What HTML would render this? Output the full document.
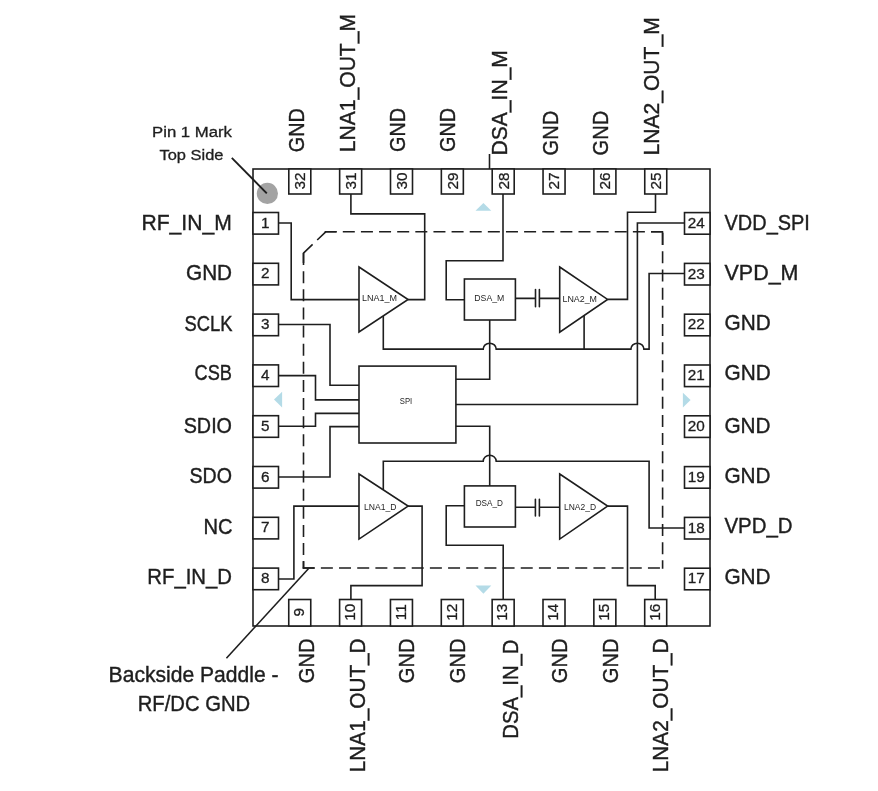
<!DOCTYPE html>
<html><head><meta charset="utf-8"><style>
html,body{margin:0;padding:0;background:#fff;width:878px;height:791px;overflow:hidden}
svg{display:block;will-change:transform}
text{font-family:"Liberation Sans",sans-serif;fill:#1e1e1e}
.L{stroke:#1e1e1e;stroke-width:0.4}
.N{stroke:#1e1e1e;stroke-width:0.3}
</style></head><body>
<svg width="878" height="791" viewBox="0 0 878 791">
<rect x="253" y="169" width="457" height="457" fill="none" stroke="#1e1e1e" stroke-width="1.6"/>
<rect x="288.80" y="169" width="22" height="25" fill="#fff" stroke="#1e1e1e" stroke-width="1.6"/>
<rect x="339.65" y="169" width="22" height="25" fill="#fff" stroke="#1e1e1e" stroke-width="1.6"/>
<rect x="390.50" y="169" width="22" height="25" fill="#fff" stroke="#1e1e1e" stroke-width="1.6"/>
<rect x="441.35" y="169" width="22" height="25" fill="#fff" stroke="#1e1e1e" stroke-width="1.6"/>
<rect x="492.20" y="169" width="22" height="25" fill="#fff" stroke="#1e1e1e" stroke-width="1.6"/>
<rect x="543.05" y="169" width="22" height="25" fill="#fff" stroke="#1e1e1e" stroke-width="1.6"/>
<rect x="593.90" y="169" width="22" height="25" fill="#fff" stroke="#1e1e1e" stroke-width="1.6"/>
<rect x="644.75" y="169" width="22" height="25" fill="#fff" stroke="#1e1e1e" stroke-width="1.6"/>
<rect x="288.75" y="599.5" width="22" height="26.5" fill="#fff" stroke="#1e1e1e" stroke-width="1.6"/>
<rect x="339.60" y="599.5" width="22" height="26.5" fill="#fff" stroke="#1e1e1e" stroke-width="1.6"/>
<rect x="390.45" y="599.5" width="22" height="26.5" fill="#fff" stroke="#1e1e1e" stroke-width="1.6"/>
<rect x="441.30" y="599.5" width="22" height="26.5" fill="#fff" stroke="#1e1e1e" stroke-width="1.6"/>
<rect x="492.15" y="599.5" width="22" height="26.5" fill="#fff" stroke="#1e1e1e" stroke-width="1.6"/>
<rect x="543.00" y="599.5" width="22" height="26.5" fill="#fff" stroke="#1e1e1e" stroke-width="1.6"/>
<rect x="593.85" y="599.5" width="22" height="26.5" fill="#fff" stroke="#1e1e1e" stroke-width="1.6"/>
<rect x="644.70" y="599.5" width="22" height="26.5" fill="#fff" stroke="#1e1e1e" stroke-width="1.6"/>
<rect x="253" y="212.50" width="25.5" height="21.6" fill="#fff" stroke="#1e1e1e" stroke-width="1.6"/>
<rect x="253" y="263.30" width="25.5" height="21.6" fill="#fff" stroke="#1e1e1e" stroke-width="1.6"/>
<rect x="253" y="314.10" width="25.5" height="21.6" fill="#fff" stroke="#1e1e1e" stroke-width="1.6"/>
<rect x="253" y="364.90" width="25.5" height="21.6" fill="#fff" stroke="#1e1e1e" stroke-width="1.6"/>
<rect x="253" y="415.70" width="25.5" height="21.6" fill="#fff" stroke="#1e1e1e" stroke-width="1.6"/>
<rect x="253" y="466.50" width="25.5" height="21.6" fill="#fff" stroke="#1e1e1e" stroke-width="1.6"/>
<rect x="253" y="517.30" width="25.5" height="21.6" fill="#fff" stroke="#1e1e1e" stroke-width="1.6"/>
<rect x="253" y="568.10" width="25.5" height="21.6" fill="#fff" stroke="#1e1e1e" stroke-width="1.6"/>
<rect x="684.5" y="212.60" width="25.5" height="21.6" fill="#fff" stroke="#1e1e1e" stroke-width="1.6"/>
<rect x="684.5" y="263.40" width="25.5" height="21.6" fill="#fff" stroke="#1e1e1e" stroke-width="1.6"/>
<rect x="684.5" y="314.20" width="25.5" height="21.6" fill="#fff" stroke="#1e1e1e" stroke-width="1.6"/>
<rect x="684.5" y="365.00" width="25.5" height="21.6" fill="#fff" stroke="#1e1e1e" stroke-width="1.6"/>
<rect x="684.5" y="415.80" width="25.5" height="21.6" fill="#fff" stroke="#1e1e1e" stroke-width="1.6"/>
<rect x="684.5" y="466.60" width="25.5" height="21.6" fill="#fff" stroke="#1e1e1e" stroke-width="1.6"/>
<rect x="684.5" y="517.40" width="25.5" height="21.6" fill="#fff" stroke="#1e1e1e" stroke-width="1.6"/>
<rect x="684.5" y="568.20" width="25.5" height="21.6" fill="#fff" stroke="#1e1e1e" stroke-width="1.6"/>
<text transform="translate(305.20,181) rotate(-90)" text-anchor="middle" font-size="15.3" class="N">32</text>
<text transform="translate(356.05,181) rotate(-90)" text-anchor="middle" font-size="15.3" class="N">31</text>
<text transform="translate(406.90,181) rotate(-90)" text-anchor="middle" font-size="15.3" class="N">30</text>
<text transform="translate(457.75,181) rotate(-90)" text-anchor="middle" font-size="15.3" class="N">29</text>
<text transform="translate(508.60,181) rotate(-90)" text-anchor="middle" font-size="15.3" class="N">28</text>
<text transform="translate(559.45,181) rotate(-90)" text-anchor="middle" font-size="15.3" class="N">27</text>
<text transform="translate(610.30,181) rotate(-90)" text-anchor="middle" font-size="15.3" class="N">26</text>
<text transform="translate(661.15,181) rotate(-90)" text-anchor="middle" font-size="15.3" class="N">25</text>
<text transform="translate(303.95,612.3) rotate(-90)" text-anchor="middle" font-size="15.3" class="N">9</text>
<text transform="translate(354.80,612.3) rotate(-90)" text-anchor="middle" font-size="15.3" class="N">10</text>
<text transform="translate(405.65,612.3) rotate(-90)" text-anchor="middle" font-size="15.3" class="N">11</text>
<text transform="translate(456.50,612.3) rotate(-90)" text-anchor="middle" font-size="15.3" class="N">12</text>
<text transform="translate(507.35,612.3) rotate(-90)" text-anchor="middle" font-size="15.3" class="N">13</text>
<text transform="translate(558.20,612.3) rotate(-90)" text-anchor="middle" font-size="15.3" class="N">14</text>
<text transform="translate(609.05,612.3) rotate(-90)" text-anchor="middle" font-size="15.3" class="N">15</text>
<text transform="translate(659.90,612.3) rotate(-90)" text-anchor="middle" font-size="15.3" class="N">16</text>
<text x="265.2" y="227.60" text-anchor="middle" font-size="15.3" class="N">1</text>
<text x="265.2" y="278.40" text-anchor="middle" font-size="15.3" class="N">2</text>
<text x="265.2" y="329.20" text-anchor="middle" font-size="15.3" class="N">3</text>
<text x="265.2" y="380.00" text-anchor="middle" font-size="15.3" class="N">4</text>
<text x="265.2" y="430.80" text-anchor="middle" font-size="15.3" class="N">5</text>
<text x="265.2" y="481.60" text-anchor="middle" font-size="15.3" class="N">6</text>
<text x="265.2" y="532.40" text-anchor="middle" font-size="15.3" class="N">7</text>
<text x="265.2" y="583.20" text-anchor="middle" font-size="15.3" class="N">8</text>
<text x="696.3" y="227.70" text-anchor="middle" font-size="15.3" class="N">24</text>
<text x="696.3" y="278.50" text-anchor="middle" font-size="15.3" class="N">23</text>
<text x="696.3" y="329.30" text-anchor="middle" font-size="15.3" class="N">22</text>
<text x="696.3" y="380.10" text-anchor="middle" font-size="15.3" class="N">21</text>
<text x="696.3" y="430.90" text-anchor="middle" font-size="15.3" class="N">20</text>
<text x="696.3" y="481.70" text-anchor="middle" font-size="15.3" class="N">19</text>
<text x="696.3" y="532.50" text-anchor="middle" font-size="15.3" class="N">18</text>
<text x="696.3" y="583.30" text-anchor="middle" font-size="15.3" class="N">17</text>
<text x="141.4" y="230.1" textLength="90.4" lengthAdjust="spacingAndGlyphs" font-size="21.4" class="L">RF_IN_M</text>
<text x="186.0" y="279.6" textLength="46.1" lengthAdjust="spacingAndGlyphs" font-size="21.4" class="L">GND</text>
<text x="184.5" y="330.8" textLength="48.0" lengthAdjust="spacingAndGlyphs" font-size="21.4" class="L">SCLK</text>
<text x="194.6" y="380.4" textLength="37.4" lengthAdjust="spacingAndGlyphs" font-size="21.4" class="L">CSB</text>
<text x="183.7" y="433.2" textLength="48.3" lengthAdjust="spacingAndGlyphs" font-size="21.4" class="L">SDIO</text>
<text x="189.5" y="482.5" textLength="42.5" lengthAdjust="spacingAndGlyphs" font-size="21.4" class="L">SDO</text>
<text x="203.4" y="533.5" textLength="29.1" lengthAdjust="spacingAndGlyphs" font-size="21.4" class="L">NC</text>
<text x="147.3" y="583.5" textLength="84.7" lengthAdjust="spacingAndGlyphs" font-size="21.4" class="L">RF_IN_D</text>
<text x="724.5" y="229.8" textLength="85.4" lengthAdjust="spacingAndGlyphs" font-size="21.4" class="L">VDD_SPI</text>
<text x="724.5" y="280.4" textLength="74.0" lengthAdjust="spacingAndGlyphs" font-size="21.4" class="L">VPD_M</text>
<text x="724.5" y="330.1" textLength="46.2" lengthAdjust="spacingAndGlyphs" font-size="21.4" class="L">GND</text>
<text x="724.5" y="380" textLength="46.2" lengthAdjust="spacingAndGlyphs" font-size="21.4" class="L">GND</text>
<text x="724.4" y="433.4" textLength="46.2" lengthAdjust="spacingAndGlyphs" font-size="21.4" class="L">GND</text>
<text x="724.4" y="482.9" textLength="46.2" lengthAdjust="spacingAndGlyphs" font-size="21.4" class="L">GND</text>
<text x="724.4" y="533.4" textLength="68.2" lengthAdjust="spacingAndGlyphs" font-size="21.4" class="L">VPD_D</text>
<text x="724.4" y="584" textLength="46.2" lengthAdjust="spacingAndGlyphs" font-size="21.4" class="L">GND</text>
<text transform="translate(304.1,152.2) rotate(-90)" textLength="44.0" lengthAdjust="spacingAndGlyphs" font-size="21.4" class="L">GND</text>
<text transform="translate(355.3,152.2) rotate(-90)" textLength="138.2" lengthAdjust="spacingAndGlyphs" font-size="21.4" class="L">LNA1_OUT_M</text>
<text transform="translate(404.7,152.0) rotate(-90)" textLength="44.0" lengthAdjust="spacingAndGlyphs" font-size="21.4" class="L">GND</text>
<text transform="translate(454.8,152.0) rotate(-90)" textLength="44.0" lengthAdjust="spacingAndGlyphs" font-size="21.4" class="L">GND</text>
<text transform="translate(507.1,155.4) rotate(-90)" textLength="105.2" lengthAdjust="spacingAndGlyphs" font-size="21.4" class="L">DSA_IN_M</text>
<text transform="translate(557.6,155.4) rotate(-90)" textLength="44.6" lengthAdjust="spacingAndGlyphs" font-size="21.4" class="L">GND</text>
<text transform="translate(607.7,155.4) rotate(-90)" textLength="44.6" lengthAdjust="spacingAndGlyphs" font-size="21.4" class="L">GND</text>
<text transform="translate(658.5,155.4) rotate(-90)" textLength="138.1" lengthAdjust="spacingAndGlyphs" font-size="21.4" class="L">LNA2_OUT_M</text>
<text transform="translate(314.1,683.2) rotate(-90)" textLength="44.8" lengthAdjust="spacingAndGlyphs" font-size="21.4" class="L">GND</text>
<text transform="translate(364.7,772.2) rotate(-90)" textLength="133.8" lengthAdjust="spacingAndGlyphs" font-size="21.4" class="L">LNA1_OUT_D</text>
<text transform="translate(414.4,683.2) rotate(-90)" textLength="44.8" lengthAdjust="spacingAndGlyphs" font-size="21.4" class="L">GND</text>
<text transform="translate(465.4,683.2) rotate(-90)" textLength="44.8" lengthAdjust="spacingAndGlyphs" font-size="21.4" class="L">GND</text>
<text transform="translate(517.6,738.7) rotate(-90)" textLength="99.2" lengthAdjust="spacingAndGlyphs" font-size="21.4" class="L">DSA_IN_D</text>
<text transform="translate(567.0,683.2) rotate(-90)" textLength="44.8" lengthAdjust="spacingAndGlyphs" font-size="21.4" class="L">GND</text>
<text transform="translate(617.9,683.2) rotate(-90)" textLength="44.8" lengthAdjust="spacingAndGlyphs" font-size="21.4" class="L">GND</text>
<text transform="translate(668,772.2) rotate(-90)" textLength="133.8" lengthAdjust="spacingAndGlyphs" font-size="21.4" class="L">LNA2_OUT_D</text>
<text x="152" y="136.6" textLength="80" lengthAdjust="spacingAndGlyphs" font-size="14.7" class="N">Pin 1 Mark</text>
<text x="159.5" y="159.5" textLength="64" lengthAdjust="spacingAndGlyphs" font-size="14.7" class="N">Top Side</text>
<text x="108.6" y="682.1" textLength="170" lengthAdjust="spacingAndGlyphs" font-size="21.4" class="L">Backside Paddle -</text>
<text x="137.7" y="710.6" textLength="112.5" lengthAdjust="spacingAndGlyphs" font-size="21.4" class="L">RF/DC GND</text>
<circle cx="267.4" cy="193.4" r="10.6" fill="#a3a3a3"/>
<path d="M231.8,157.8 L266.8,193.3" stroke="#1e1e1e" stroke-width="1.9" fill="none"/>
<path d="M226.4,658.2 L308.4,568.8" stroke="#1e1e1e" stroke-width="1.6" fill="none"/>
<path d="M303.5,253 V568.8" fill="none" stroke="#1e1e1e" stroke-width="1.6" stroke-dasharray="12 6.13"/>
<path d="M302.7,568 H663.4" fill="none" stroke="#1e1e1e" stroke-width="1.6" stroke-dasharray="12 6.17"/>
<path d="M662.6,233.1 V568.8" fill="none" stroke="#1e1e1e" stroke-width="1.6" stroke-dasharray="12 6.18"/>
<path d="M324.67,231.8 H663.4" fill="none" stroke="#1e1e1e" stroke-width="1.6" stroke-dasharray="12 6.13"/>
<path d="M336.6,231.8 H325.75 L317.2,240 M312.6,244.4 L303.5,253.2 V263" fill="none" stroke="#1e1e1e" stroke-width="1.6" stroke-linejoin="round"/>
<path d="M651,231.8 H662.6 V245.1" fill="none" stroke="#1e1e1e" stroke-width="1.6" stroke-linejoin="round"/>
<path d="M303.5,561 V568 H314.6" fill="none" stroke="#1e1e1e" stroke-width="1.6" stroke-linejoin="round"/>
<path d="M475.5,210.8 L491.3,210.8 L483.4,203.1 Z" fill="#b4dbe7"/>
<path d="M475.5,585.6 L491.3,585.6 L483.4,593.7 Z" fill="#b4dbe7"/>
<path d="M282.1,391.8 L282.1,407.4 L274,399.6 Z" fill="#b4dbe7"/>
<path d="M682.9,392.8 L682.9,407.4 L690.6,400.1 Z" fill="#b4dbe7"/>
<path d="M278.5,223 H291.2 V299.6 H359" fill="none" stroke="#1e1e1e" stroke-width="1.6"/>
<path d="M350.9,194 V213.9 H424.7 V299.6 H408.1" fill="none" stroke="#1e1e1e" stroke-width="1.6"/>
<path d="M383.3,315.9 V349.1 H483.20 A6.5,5.9 0 0 1 496.20,349.1 H630.90 A6.5,5.9 0 0 1 643.90,349.1 H649.1 V273.5 H684.5" fill="none" stroke="#1e1e1e" stroke-width="1.6"/>
<path d="M584.1,315.5 V349.1" fill="none" stroke="#1e1e1e" stroke-width="1.6"/>
<path d="M503,194 V260.8 H446.2 V299.8 H464.4" fill="none" stroke="#1e1e1e" stroke-width="1.6"/>
<path d="M515.4,298.4 H535.5 M539.4,298.4 H559.7" fill="none" stroke="#1e1e1e" stroke-width="1.6"/>
<path d="M535.5,289.6 V306.7 M539.4,289.6 V306.7" fill="none" stroke="#1e1e1e" stroke-width="1.6" stroke-linecap="round"/>
<path d="M655.5,194 V212.2 H627.5 V299.4 H607.6" fill="none" stroke="#1e1e1e" stroke-width="1.6"/>
<path d="M684.5,223 H637.4 V404.5 H455.9" fill="none" stroke="#1e1e1e" stroke-width="1.6"/>
<path d="M489.7,320 V379.3 H455.9" fill="none" stroke="#1e1e1e" stroke-width="1.6"/>
<path d="M278.5,324.5 H330 V385.3 H359" fill="none" stroke="#1e1e1e" stroke-width="1.6"/>
<path d="M278.5,375.6 H315.5 V399.9 H359" fill="none" stroke="#1e1e1e" stroke-width="1.6"/>
<path d="M278.5,426.2 H315.5 V413.4 H359" fill="none" stroke="#1e1e1e" stroke-width="1.6"/>
<path d="M278.5,477 H330 V426.6 H359" fill="none" stroke="#1e1e1e" stroke-width="1.6"/>
<path d="M455.9,426.2 H489.7 V485.9" fill="none" stroke="#1e1e1e" stroke-width="1.6"/>
<path d="M383.3,489.9 V461.2 H483.20 A6.5,5.9 0 0 1 496.20,461.2 H649.1 V528 H684.5" fill="none" stroke="#1e1e1e" stroke-width="1.6"/>
<path d="M278.5,579 H293.9 V506.1 H359" fill="none" stroke="#1e1e1e" stroke-width="1.6"/>
<path d="M408.1,506.1 H422.1 V585.6 H350.9 V599.5" fill="none" stroke="#1e1e1e" stroke-width="1.6"/>
<path d="M464.4,505.7 H446.2 V545.2 H503.2 V599.5" fill="none" stroke="#1e1e1e" stroke-width="1.6"/>
<path d="M515.4,507.3 H535.4 M539.4,507.3 H559.7" fill="none" stroke="#1e1e1e" stroke-width="1.6"/>
<path d="M535.4,499.2 V516 M539.4,499.2 V516" fill="none" stroke="#1e1e1e" stroke-width="1.6" stroke-linecap="round"/>
<path d="M607.6,506.1 H627.5 V585.6 H655.2 V599.5" fill="none" stroke="#1e1e1e" stroke-width="1.6"/>
<path d="M489.5,154 V169" fill="none" stroke="#1e1e1e" stroke-width="1.6"/>
<path d="M359,267 L408.1,299.5 L359,332 Z" fill="none" stroke="#1e1e1e" stroke-width="1.6" stroke-linejoin="miter"/>
<path d="M559.7,267 L607.6,299.4 L559.7,332.2 Z" fill="none" stroke="#1e1e1e" stroke-width="1.6" stroke-linejoin="miter"/>
<path d="M359,474 L408.1,506.1 L359,539.1 Z" fill="none" stroke="#1e1e1e" stroke-width="1.6" stroke-linejoin="miter"/>
<path d="M559.7,474 L607.6,506.1 L559.7,539.1 Z" fill="none" stroke="#1e1e1e" stroke-width="1.6" stroke-linejoin="miter"/>
<rect x="464.4" y="279" width="51" height="41" fill="none" stroke="#1e1e1e" stroke-width="1.6"/>
<rect x="464.4" y="485.9" width="51" height="41.1" fill="none" stroke="#1e1e1e" stroke-width="1.6"/>
<rect x="359" y="366.1" width="96.9" height="76.9" fill="none" stroke="#1e1e1e" stroke-width="1.6"/>
<text x="362" y="301.4" textLength="35.0" lengthAdjust="spacingAndGlyphs" font-size="8.5" fill="#666">LNA1_M</text>
<text x="474.3" y="301.3" textLength="30.0" lengthAdjust="spacingAndGlyphs" font-size="8.5" fill="#666">DSA_M</text>
<text x="562.5" y="301.6" textLength="34.5" lengthAdjust="spacingAndGlyphs" font-size="8.5" fill="#666">LNA2_M</text>
<text x="399.8" y="404.1" textLength="12.4" lengthAdjust="spacingAndGlyphs" font-size="8.5" fill="#666">SPI</text>
<text x="364" y="509.5" textLength="32.5" lengthAdjust="spacingAndGlyphs" font-size="8.5" fill="#666">LNA1_D</text>
<text x="475.7" y="506.1" textLength="27.2" lengthAdjust="spacingAndGlyphs" font-size="8.5" fill="#666">DSA_D</text>
<text x="564" y="509.9" textLength="32.0" lengthAdjust="spacingAndGlyphs" font-size="8.5" fill="#666">LNA2_D</text>
</svg>
</body></html>
